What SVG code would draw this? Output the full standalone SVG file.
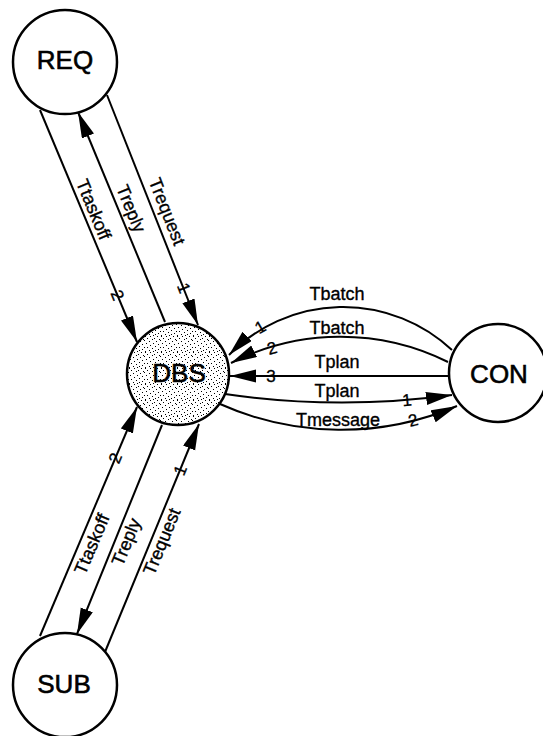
<svg xmlns="http://www.w3.org/2000/svg" width="543" height="736" viewBox="0 0 543 736">
<style>
.node{fill:#fff;stroke:#000;stroke-width:2.5}
.nl{font-family:"Liberation Sans",Arial,sans-serif;font-size:26px;fill:#000;stroke:#000;stroke-width:0.6;text-anchor:middle}
.el{font-family:"Liberation Sans",Arial,sans-serif;font-size:18px;fill:#000;stroke:#000;stroke-width:0.35;text-anchor:middle}
.num{font-family:"Liberation Sans",Arial,sans-serif;font-size:17px;fill:#000;stroke:#000;stroke-width:0.3;text-anchor:middle}
.c{fill:none;stroke:#000;stroke-width:2;marker-end:url(#ah)}
</style>
<defs>
<marker id="ah" markerUnits="userSpaceOnUse" markerWidth="28" markerHeight="14" refX="26" refY="6.5" orient="auto">
<path d="M0,0 L26,6.5 L0,13 z" fill="#000"/>
</marker>
<pattern id="stip" patternUnits="userSpaceOnUse" width="16" height="16">
<rect width="16" height="16" fill="#fff"/>
<path fill="#000" d="M1 0h1v1h-1z M6 0h1v1h-1z M13 0h1v1h-1z M3 2h1v1h-1z M10 2h1v1h-1z M15 3h1v1h-1z M8 3h1v1h-1z M0 4h1v1h-1z M12 5h1v1h-1z M5 5h1v1h-1z M2 7h1v1h-1z M9 7h1v1h-1z M14 8h1v1h-1z M6 9h1v1h-1z M11 10h1v1h-1z M0 11h1v1h-1z M3 11h1v1h-1z M8 12h1v1h-1z M14 13h1v1h-1z M5 14h1v1h-1z M11 14h1v1h-1z M1 15h1v1h-1z M9 15h1v1h-1z"/>
</pattern>
</defs>

<g id="connectors">
<path class="c" d="M40,110 L137,342"/>
<path class="c" d="M165,322 L78,112"/>
<path class="c" d="M107,95 L198,325"/>
<path class="c" d="M40,636 L137,407"/>
<path class="c" d="M162,425 L77,634"/>
<path class="c" d="M105,652 L199,424"/>
<path class="c" d="M452,350 A159.4,159.4 0 0,0 229,355"/>
<path class="c" d="M448,362 A241.5,241.5 0 0,0 231,363"/>
<path class="c" d="M450,376 L230,376"/>
<path class="c" d="M225,394 A809,809 0 0,0 452,395"/>
<path class="c" d="M220,404 A295.7,295.7 0 0,0 457,406"/>

<text class="el" transform="translate(83.4,213.7) rotate(67.3)" y="-5">Ttaskoff</text>
<text class="el" transform="translate(119.9,213.2) rotate(67.5)" y="-6">Treply</text>
<text class="el" transform="translate(155,216.4) rotate(68.4)" y="-7">Trequest</text>
<text class="num" transform="translate(117.5,295) rotate(67.3)" dy="0.35em">2</text>
<text class="num" transform="translate(184,288) rotate(68.4)" dy="0.35em">1</text>

<text class="el" transform="translate(80.9,539.5) rotate(-67)" y="18">Ttaskoff</text>
<text class="el" transform="translate(116.1,537.8) rotate(-67.9)" y="17">Treply</text>
<text class="el" transform="translate(152.2,537.5) rotate(-67.6)" y="16.5">Trequest</text>
<text class="num" transform="translate(115,458) rotate(-67)" dy="0.35em">2</text>
<text class="num" transform="translate(180,470) rotate(-67.6)" dy="0.35em">1</text>

<text class="el" x="337" y="300">Tbatch</text>
<text class="el" x="337" y="334">Tbatch</text>
<text class="el" x="337" y="368">Tplan</text>
<text class="el" x="337" y="397">Tplan</text>
<text class="el" x="338" y="426">Tmessage</text>
<text class="num" transform="translate(260,327) rotate(-30)" dy="0.35em">1</text>
<text class="num" transform="translate(272,348) rotate(-16)" dy="0.35em">2</text>
<text class="num" transform="translate(271,376)" dy="0.35em">3</text>
<text class="num" transform="translate(407,400) rotate(-5)" dy="0.35em">1</text>
<text class="num" transform="translate(413,420) rotate(-14.5)" dy="0.35em">2</text>
</g>

<g id="REQ">
<circle class="node" cx="65" cy="62" r="52"/>
<text class="nl" x="65" y="69">REQ</text>
</g>
<g id="DBS">
<circle class="node" cx="178" cy="374" r="51" style="fill:url(#stip)"/>
<text class="nl" x="179" y="382">DBS</text>
</g>
<g id="CON">
<circle class="node" cx="498" cy="373" r="49"/>
<text class="nl" x="499" y="383">CON</text>
</g>
<g id="SUB">
<circle class="node" cx="65" cy="685" r="52"/>
<text class="nl" x="64" y="693">SUB</text>
</g>
</svg>
